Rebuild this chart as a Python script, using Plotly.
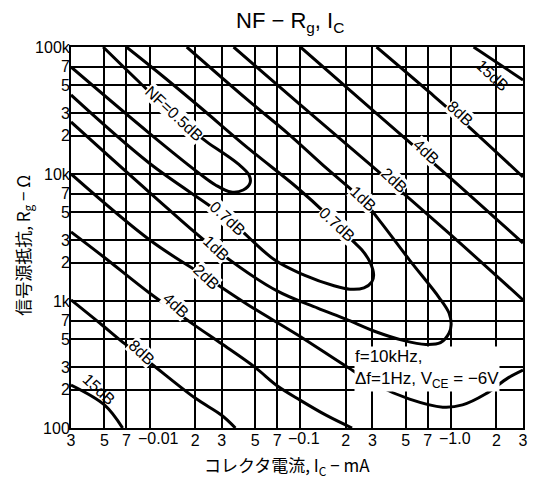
import math
import plotly.graph_objects as go

# ---- axes: grid / tick values ----
x_ticks = [0.003, 0.005, 0.007, 0.01, 0.02, 0.03, 0.05, 0.07, 0.1, 0.2, 0.3, 0.5, 0.7, 1.0, 2.0, 3.0]
x_ticktext = ["3", "5", "7", "", "2", "3", "5", "7", "", "2", "3", "5", "7", "", "2", "3"]
x_decade_vals = [0.01, 0.1, 1.0]
x_decade_text = ["\u22120.01", "\u22120.1", "\u22121.0"]
y_ticks = [100, 200, 300, 500, 700, 1e3, 2e3, 3e3, 5e3, 7e3, 1e4, 2e4, 3e4, 5e4, 7e4, 1e5]
y_ticktext = ["100", "2", "3", "5", "7", "1k", "2", "3", "5", "7", "10k", "2", "3", "5", "7", "100k"]

# ---- NF contours (Ic in mA, Rg in ohm) ----
nf15_lo_ic = [0.003, 0.005, 0.0066]
nf15_lo_rg = [218, 152, 100]
nf15_hi_ic = [1.41, 3.0]
nf15_hi_rg = [100000, 55000]

nf8_lo_ic = [0.003, 0.0048, 0.0066, 0.0096, 0.02, 0.03, 0.037]
nf8_lo_rg = [1020, 650, 475, 340, 172, 126, 100]
nf8_hi_ic = [0.32, 0.715, 1.19, 3.0]
nf8_hi_rg = [100000, 44300, 26100, 9470]

nf4_lo_ic = [0.003, 0.005, 0.01, 0.02, 0.03, 0.05, 0.07, 0.1, 0.15, 0.22]
nf4_lo_rg = [3500, 2200, 1150, 640, 460, 300, 215, 165, 125, 100]
nf4_hi_ic = [0.1, 0.3, 1.0, 3.0]
nf4_hi_rg = [100000, 32000, 9200, 2860]

nf2_lo_ic = [0.003, 0.01, 0.0235, 0.045, 0.096, 0.195, 0.32, 0.53, 0.88, 1.19, 1.69, 2.39, 3.0]
nf2_lo_rg = [10000, 3020, 1550, 931, 540, 313, 218, 169, 146, 152, 185, 248, 286]
nf2_hi_ic = [0.036, 0.1, 0.3, 1.0, 3.0]
nf2_hi_rg = [100000, 35000, 11500, 3300, 1020]

nf1_ic = [0.003, 0.0099, 0.0277, 0.07, 0.13, 0.2, 0.32, 0.48, 0.68, 0.85, 0.97, 1.0,
          0.97, 0.83, 0.53, 0.34, 0.26, 0.15, 0.082, 0.045, 0.0176]
nf1_rg = [25700, 7210, 2520, 1200, 880, 720, 570, 490, 455, 470, 560, 650,
          800, 1070, 2100, 4200, 6200, 11000, 21000, 38000, 100000]

nf07_ic = [0.003, 0.0099, 0.0332, 0.0676, 0.106, 0.167, 0.213, 0.264, 0.297, 0.306,
           0.289, 0.256, 0.226, 0.195, 0.151, 0.0957, 0.0449, 0.0211, 0.0115, 0.007]
nf07_rg = [41900, 12200, 4400, 2100, 1600, 1320, 1240, 1270, 1410, 1600,
           2030, 2520, 2920, 3490, 4750, 7760, 16000, 34300, 62400, 100000]

nf05_ic = [0.003, 0.0099, 0.0211, 0.0273, 0.0347, 0.0417, 0.0463, 0.0456, 0.0386, 0.03,
           0.0245, 0.0145, 0.0085, 0.0049]
nf05_rg = [69600, 21000, 10200, 8200, 7210, 7480, 8500, 9800, 12000, 14900,
           17500, 29200, 53000, 100000]

# ---- contour labels ----
lbl_text = ["NF=0.5dB", "0.7dB", "1dB", "2dB", "4dB", "8dB", "15dB",
            "0.7dB", "1dB", "2dB", "4dB", "8dB", "15dB"]
lbl_ic = [0.0145, 0.033, 0.0277, 0.0235, 0.015, 0.0088, 0.0046,
          0.175, 0.26, 0.42, 0.68, 1.15, 1.88]
lbl_rg = [30000, 4500, 2600, 1550, 930, 390, 200,
          4000, 6400, 8900, 15000, 30000, 60000]
lbl_bg = [True, True, True, True, True, True, False,
          True, True, True, True, True, False]

FONT = "Liberation Sans, Arial, sans-serif"
CJK = "Noto Sans CJK JP, sans-serif"

fig = go.Figure()
curves = [
    (nf15_lo_ic, nf15_lo_rg), (nf15_hi_ic, nf15_hi_rg),
    (nf8_lo_ic, nf8_lo_rg), (nf8_hi_ic, nf8_hi_rg),
    (nf4_lo_ic, nf4_lo_rg), (nf4_hi_ic, nf4_hi_rg),
    (nf2_lo_ic, nf2_lo_rg), (nf2_hi_ic, nf2_hi_rg),
    (nf1_ic, nf1_rg), (nf07_ic, nf07_rg), (nf05_ic, nf05_rg),
]
for xs, ys in curves:
    fig.add_trace(go.Scatter(x=xs, y=ys, mode="lines",
                             line=dict(color="black", width=3, shape="spline", smoothing=1.0),
                             hoverinfo="skip", cliponaxis=True))

annotations = []
for t, xi, yi, bg in zip(lbl_text, lbl_ic, lbl_rg, lbl_bg):
    annotations.append(dict(x=math.log10(xi), y=math.log10(yi), xref="x", yref="y",
                            text=t, showarrow=False, textangle=43,
                            font=dict(family=FONT, size=16, color="black"),
                            bgcolor="white" if bg else "rgba(0,0,0,0)", borderpad=0))
for v, t in zip(x_decade_vals, x_decade_text):
    annotations.append(dict(x=math.log10(v), y=0, xref="x", yref="paper",
                            text=t, showarrow=False, xanchor="left", yanchor="top",
                            xshift=-14, yshift=0,
                            font=dict(family=FONT, size=16, color="black")))
annotations.append(dict(x=math.log10(0.226), y=math.log10(290), xref="x", yref="y",
                        text="f=10kHz,<br>\u0394f=1Hz, V<sub>CE</sub> = \u22126V",
                        showarrow=False, xanchor="left", yanchor="middle", align="left",
                        font=dict(family=FONT, size=17, color="black"),
                        bgcolor="white", borderpad=0))
annotations.append(dict(x=0.484, y=1.066, xref="paper", yref="paper",
                        text="NF \u2212 R<sub>g</sub>, I<sub>C</sub>", showarrow=False,
                        yanchor="middle",
                        font=dict(family=FONT, size=22, color="black")))
annotations.append(dict(x=0.477, y=0, xref="paper", yref="paper", yshift=-37,
                        text="コレクタ電流, I<sub>C</sub> \u2212 mA", showarrow=False,
                        yanchor="middle",
                        font=dict(family=CJK, size=17, color="black")))
annotations.append(dict(x=-0.107, y=0.48, xref="paper", yref="paper", textangle=-90,
                        text="信号源抵抗, R<sub>g</sub> \u2212 \u03a9", showarrow=False,
                        xanchor="center", yanchor="middle",
                        font=dict(family=CJK, size=17, color="black")))

fig.update_layout(width=537, height=479, margin=dict(l=71, r=9, t=47, b=51),
                  paper_bgcolor="white", plot_bgcolor="white", showlegend=False,
                  annotations=annotations)
fig.update_xaxes(type="log", range=[math.log10(0.003), math.log10(3.0)],
                 tickmode="array", tickvals=x_ticks, ticktext=x_ticktext,
                 showgrid=True, gridcolor="black", gridwidth=1.5,
                 showline=True, linecolor="black", linewidth=2, mirror=True,
                 ticks="", zeroline=False, ticklabelstandoff=-3,
                 tickfont=dict(family=FONT, size=16, color="black"))
fig.update_yaxes(type="log", range=[2, 5],
                 tickmode="array", tickvals=y_ticks, ticktext=y_ticktext,
                 showgrid=True, gridcolor="black", gridwidth=1.5,
                 showline=True, linecolor="black", linewidth=2, mirror=True,
                 ticks="", zeroline=False, ticklabelstandoff=-4,
                 tickfont=dict(family=FONT, size=16, color="black"))

fig.write_html("out.html")
